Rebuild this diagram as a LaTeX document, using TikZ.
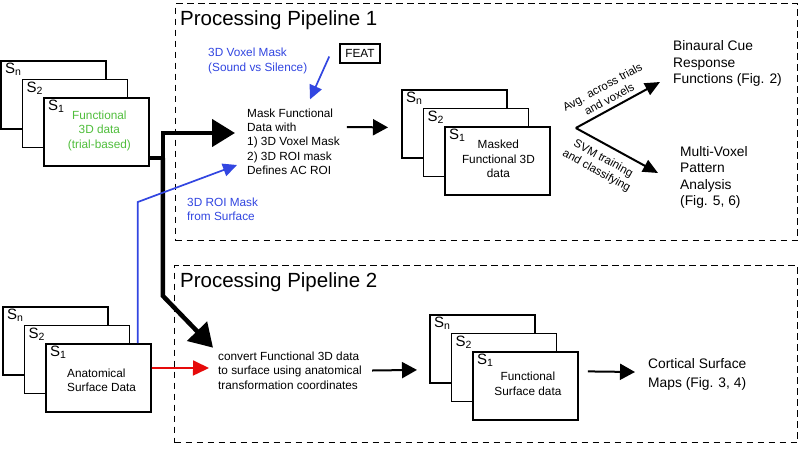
\documentclass[tikz,border=0pt]{standalone}
\usepackage{fontspec}
\setmainfont{Liberation Sans}
\usepackage{pgf,tikz}
\usetikzlibrary{calc, arrows.meta, positioning}
\definecolor{fgreen}{RGB}{80,190,60}
\definecolor{mblue}{RGB}{50,70,225}
\definecolor{ared}{RGB}{230,10,10}
\newcommand\dx{21.5}
\newcommand\dy{18.5}

% three stacked subject boxes: S_n, S_2, S_1
\newcommand\datastack[3]{%
  \node[sbox] (#1n) at (#2,#3) {};
  \node[slabel] at ($(#1n.north west)+(5,3)$) {S\textsubscript{n}};
  \node[sbox] (#12) at ($(#1n.north west)+(\dx,\dy)$) {};
  \node[slabel] at ($(#12.north west)+(5,3)$) {S\textsubscript{2}};
  \node[sbox] (#11) at ($(#12.north west)+(\dx,\dy)$) {};
  \node[slabel] at ($(#11.north west)+(5,3)$) {S\textsubscript{1}};
}

\begin{document}
\begin{tikzpicture}[x=1pt, y=-1pt,
  sbox/.style={draw, line width=1.8pt, fill=white, minimum width=105pt, minimum height=68pt, anchor=north west, inner sep=0},
  slabel/.style={anchor=north west, inner sep=0, font=\fontsize{15}{15}\selectfont},
  pipebox/.style={draw, line width=1.3pt, dash pattern=on 6.5pt off 4.5pt, anchor=north west, inner sep=0},
  ptitle/.style={anchor=base west, inner sep=0, font=\fontsize{20.5}{24}\selectfont},
  txt/.style={inner sep=0, align=left, font=\fontsize{11.8}{14.3}\selectfont},
  ctxt/.style={txt, align=center},
  forktxt/.style={inner sep=0, align=center, font=\fontsize{11.5}{14}\selectfont},
  bigtxt/.style={inner sep=0, align=left, font=\fontsize{13.8}{16.5}\selectfont},
  thickarrow/.style={line width=4.5pt, -{Triangle[length=23pt,width=27pt]}},
  blackarrow/.style={line width=2pt, -{Triangle[length=15pt,width=16pt]}},
  forkarrow/.style={line width=2pt, -{Triangle[length=15pt,width=13pt]}},
  bluearrow/.style={mblue, line width=1.7pt, -{Triangle[length=14pt,width=13pt]}},
  redarrow/.style={ared, line width=1.7pt, -{Triangle[length=16pt,width=15pt]}},
]

\fill[white] (0,0) rectangle (800,467);
\useasboundingbox (0,0) rectangle (800,467);

% pipelines
\node[pipebox, minimum width=622pt, minimum height=237pt] (pipe1) at (175,3) {};
\node[pipebox, minimum width=623pt, minimum height=177pt] (pipe2) at (174,265) {};
\node[ptitle] at (180,25) {Processing Pipeline 1};
\node[ptitle] at (180,287) {Processing Pipeline 2};

% input data
\datastack{f}{0}{60}
\node[ctxt, text=fgreen] (ftext) at ($(f1.center)+(3,-1)$) {Functional\\3D data\\(trial-based)};
\datastack{a}{2}{306}
\node[txt, anchor=west] (atext) at (67,380) {Anatomical\\Surface Data};

% pipeline 1
\node[txt, anchor=west] (mask) at (247,141.5) {Mask Functional\\Data with\\1) 3D Voxel Mask\\2) 3D ROI mask\\Defines AC ROI};
\node[draw, line width=1.5pt, minimum width=40pt, minimum height=19pt, inner sep=0, font=\fontsize{11.8}{14}\selectfont] (feat) at (360,53.5) {FEAT};
\node[txt, text=mblue, anchor=west] (voxmask) at (208,61) {3D Voxel Mask\\(Sound vs Silence)};
\node[txt, text=mblue, anchor=west] (roimask) at (187,209) {3D ROI Mask\\from Surface};
\datastack{m}{401}{89}
\node[ctxt] (mtext) at ($(m1.center)+(1,-2)$) {Masked\\Functional 3D\\data};
\coordinate (fork) at ($(m1.north east)+(25,2)$);
\node[bigtxt, anchor=west] (bcrf) at (673,63.5) {Binaural Cue\\Response\\Functions (Fig. 2)};
\node[bigtxt, anchor=west] (mvpa) at (680,177.5) {Multi-Voxel\\Pattern\\Analysis\\(Fig. 5, 6)};
\node[forktxt, rotate=28.7] (avg) at ($(fork)+(30,-35)$) {Avg. across trials\\and voxels};
\node[forktxt, rotate=-28.7] (svm) at ($(fork)+(24,37)$) {SVM training\\and classifying};

% pipeline 2
\node[txt, anchor=west] (conv) at (218,370.5) {convert Functional 3D data\\to surface using anatomical\\transformation coordinates};
\datastack{s}{429}{314}
\node[ctxt] (stext) at ($(s1.center)+(2.5,-2)$) {Functional\\Surface data};
\node[bigtxt, anchor=west, font=\fontsize{13.8}{19}\selectfont] (cort) at (648,374.5) {Cortical Surface\\Maps (Fig. 3, 4)};

% connectors
\coordinate (split) at ($(f1.south east)+(13,-9)$);
\draw[thickarrow] (f1.south east |- split) -- (split) |- ($(mask.west)+(-12,-8.5)$);
\draw[thickarrow] (split) -- ($(split)+(0,138)$) -- ($(conv.north west)+(-5,-4)$);
\draw[bluearrow] ($(feat.west)+(-10,3)$) -- ($(mask.north west)+(63,-9)$);
\draw[bluearrow] ($(a1.north east)+(-14,0)$) -- ++(0,-141) -- ($(mask.west)+(-10,23.5)$);
\draw[redarrow] ($(a1.east)+(0,-10)$) -- ($(conv.west)+(-9,-2.5)$);
\draw[blackarrow] ($(mask.east)+(7,-14.5)$) -- ($(mn.west)+(-13,3.5)$);
\draw[forkarrow] (fork) -- ($(bcrf.west)+(-13,18.5)$);
\draw[forkarrow] (fork) -- ($(mvpa.west)+(-22,-4.5)$);
\draw[blackarrow] ($(conv.east)+(10,0)$) -- ($(sn.west)+(-12,21)$);
\draw[blackarrow] ($(s1.east)+(9,-14.5)$) -- ($(cort.west)+(-13,-2.5)$);

\end{tikzpicture}
\end{document}
